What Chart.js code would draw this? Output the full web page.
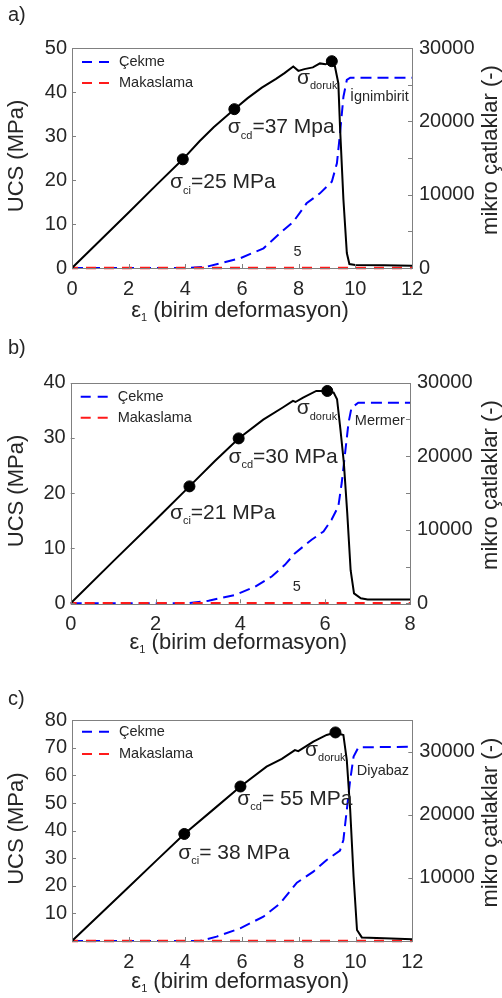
<!DOCTYPE html>
<html>
<head>
<meta charset="utf-8">
<script src="https://cdn.jsdelivr.net/npm/chart.js@4.4.1/dist/chart.umd.min.js"></script>
<style>
  html, body { margin: 0; padding: 0; background: #fff; }
  #wrap { position: relative; width: 502px; height: 998px; }
  canvas { position: absolute; left: 0; }
</style>
</head>
<body>
<div id="wrap">
  <canvas id="chartA" width="502" height="330" style="top:0px"></canvas>
  <canvas id="chartB" width="502" height="330" style="top:330px"></canvas>
  <canvas id="chartC" width="502" height="338" style="top:660px"></canvas>
</div>
<script>
// ---- panel a) Ignimbirit ----
const strainA = [0, 1, 2, 3, 3.91, 4.5, 5, 5.73, 6.2, 6.7, 7.2, 7.5, 7.81, 7.99, 8.2, 8.5, 8.75, 8.95, 9.17, 9.28, 9.4, 9.46, 9.58, 9.7, 9.79, 10, 11, 12];
const stressA = [0, 6.3, 12.6, 19.0, 24.7, 28.8, 32.0, 36.1, 38.6, 41.0, 43.0, 44.3, 45.8, 44.8, 45.2, 45.6, 46.5, 46.3, 47.0, 45.8, 42, 32, 15.5, 3.4, 0.9, 0.7, 0.6, 0.5];
const crackStrainA = [0, 4.0, 4.75, 5.93, 6.76, 7.35, 7.81, 8.28, 8.75, 9.17, 9.35, 9.46, 9.58, 9.7, 9.82, 12];
const crackA = [0, 0, 180, 1320, 2680, 4770, 6300, 8820, 10180, 11770, 14280, 18370, 23360, 25640, 25950, 25950];
const shearStrainA = [0, 12];
const shearA = [0, 0];
const markStrainA = [3.91, 5.73, 9.17];
const markStressA = [24.7, 36.1, 47.0];

// ---- panel b) Mermer ----
const strainB = [0, 1, 2, 2.8, 3.4, 3.96, 4.54, 5.0, 5.24, 5.3, 5.48, 5.79, 6.05, 6.2, 6.28, 6.36, 6.44, 6.52, 6.6, 6.68, 6.84, 7, 8];
const stressB = [0, 7.6, 15.1, 21.2, 25.8, 29.9, 33.3, 35.5, 36.7, 36.5, 37.3, 38.5, 38.5, 38.2, 37, 31.5, 25.5, 16.4, 6, 1.8, 0.9, 0.7, 0.7];
const crackStrainB = [0, 2.75, 3.25, 3.88, 4.35, 4.74, 5.05, 5.29, 5.68, 5.96, 6.15, 6.31, 6.39, 6.47, 6.55, 6.62, 6.78, 8];
const crackB = [0, 0, 360, 1140, 2270, 3640, 5230, 6820, 8640, 9770, 11360, 13180, 16360, 20450, 24540, 26590, 27270, 27270];
const shearStrainB = [0, 8];
const shearB = [0, 0];
const markStrainB = [2.8, 3.96, 6.05];
const markStressB = [21.2, 29.9, 38.5];

// ---- panel c) Diyabaz ----
const strainC = [0, 1, 2, 3, 3.96, 5, 5.94, 6.86, 7.4, 7.86, 7.98, 8.51, 8.98, 9.29, 9.57, 9.69, 9.81, 9.93, 10.05, 10.22, 11, 12];
const stressC = [0, 9.8, 19.6, 29.4, 38.8, 47.8, 56.0, 63.2, 66.0, 69.2, 68.8, 72.3, 74.7, 75.6, 74.7, 65.6, 47.5, 23.3, 4, 1.3, 1.0, 0.6];
const crackStrainC = [0, 4.5, 5.1, 5.93, 6.75, 7.34, 7.93, 8.51, 8.98, 9.45, 9.57, 9.69, 9.81, 9.93, 10.1, 12];
const crackC = [0, 0, 690, 2010, 3860, 5970, 9250, 11000, 12850, 14330, 16020, 20780, 25540, 29240, 30720, 30800];
const shearStrainC = [0, 12];
const shearC = [0, 0];
const markStrainC = [3.96, 5.94, 9.29];
const markStressC = [38.8, 56.0, 75.6];

const FONT = '"Liberation Sans", Arial, sans-serif';
const TXT = '#262626';
const AXIS = '#808080';

function pts(xs, ys) { return xs.map((x, i) => ({ x: x, y: ys[i] })); }

function rich(ctx, x, y, parts, align) {
  let w = 0;
  parts.forEach(p => { ctx.font = p.size + 'px ' + FONT; p.w = ctx.measureText(p.t).width; w += p.w; });
  let cx = align === 'center' ? x - w / 2 : x;
  parts.forEach(p => {
    ctx.font = p.size + 'px ' + FONT;
    ctx.fillText(p.t, cx, y + (p.dy || 0));
    cx += p.w;
  });
}

const decor = {
  id: 'decor',
  afterDraw(chart) {
    const o = chart.options.plugins.decor;
    const ctx = chart.ctx;
    const a = chart.chartArea;
    const sx = chart.scales.x, sy = chart.scales.y, s2 = chart.scales.y2;
    ctx.save();
    // frame
    ctx.strokeStyle = AXIS;
    ctx.lineWidth = 1;
    ctx.strokeRect(Math.round(a.left) + 0.5, Math.round(a.top) + 0.5, Math.round(a.right - a.left), Math.round(a.bottom - a.top));
    // inward ticks
    ctx.beginPath();
    sy.ticks.forEach(t => { const p = Math.round(sy.getPixelForValue(t.value)) + 0.5; ctx.moveTo(a.left, p); ctx.lineTo(a.left + 4, p); });
    s2.ticks.forEach(t => {
      if (!o.minorRight && t.value % 10000 !== 0) return;
      const p = Math.round(s2.getPixelForValue(t.value)) + 0.5; ctx.moveTo(a.right, p); ctx.lineTo(a.right - 4, p);
    });
    sx.ticks.forEach(t => { const p = Math.round(sx.getPixelForValue(t.value)) + 0.5; ctx.moveTo(p, a.bottom); ctx.lineTo(p, a.bottom - 4); });
    ctx.stroke();

    ctx.fillStyle = TXT;
    ctx.textBaseline = 'middle';
    ctx.textAlign = 'left';
    // panel letter
    ctx.font = '20px ' + FONT;
    ctx.fillText(o.letter, 8, o.letterY);

    // legend
    const lg = [['Çekme', '#0000ff', o.legendY[0]], ['Makaslama', '#ff1a1a', o.legendY[1]]];
    lg.forEach(l => {
      const yy = a.top + l[2];
      ctx.strokeStyle = l[1];
      ctx.lineWidth = 2;
      ctx.setLineDash([10, 7]);
      ctx.beginPath();
      ctx.moveTo(a.left + 10, yy);
      ctx.lineTo(a.left + 38, yy);
      ctx.stroke();
      ctx.setLineDash([]);
      ctx.fillStyle = TXT;
      ctx.font = '14.5px ' + FONT;
      ctx.fillText(l[0], a.left + 47, yy);
    });

    // sigma notes
    o.notes.forEach(n => {
      const px = sx.getPixelForValue(n.x), py = sy.getPixelForValue(n.y);
      rich(ctx, px, py, [
        { t: 'σ', size: 21 },
        { t: n.sub, size: 11, dy: 8 },
        { t: n.rest, size: 21 }
      ], 'left');
    });
    // material name & "5"
    ctx.font = '14.5px ' + FONT;
    ctx.fillText(o.rock.t, sx.getPixelForValue(o.rock.x), sy.getPixelForValue(o.rock.y));
    if (o.five) {
      ctx.textAlign = 'center';
      ctx.fillText('5', sx.getPixelForValue(o.five.x), sy.getPixelForValue(o.five.y));
      ctx.textAlign = 'left';
    }

    // axis titles
    const midX = (a.left + a.right) / 2, midY = (a.top + a.bottom) / 2;
    rich(ctx, midX - 2, a.bottom + o.xTitleDy, [
      { t: 'ε', size: 22 },
      { t: '1', size: 11, dy: 7 },
      { t: ' (birim deformasyon)', size: 22 }
    ], 'center');
    ctx.textAlign = 'center';
    ctx.font = '22px ' + FONT;
    ctx.save();
    ctx.translate(17, midY - 2);
    ctx.rotate(-Math.PI / 2);
    ctx.fillText('UCS (MPa)', 0, 0);
    ctx.restore();
    ctx.save();
    ctx.translate(491, midY - 8);
    ctx.rotate(-Math.PI / 2);
    ctx.fillText('mikro çatlaklar (-)', 0, 0);
    ctx.restore();
    ctx.restore();
  }
};

function makePanel(id, p) {
  const ctx = document.getElementById(id).getContext('2d');
  return new Chart(ctx, {
    type: 'line',
    data: {
      datasets: [
        { data: pts(p.markX, p.markY), yAxisID: 'y', showLine: false, pointRadius: 5.5,
          pointBackgroundColor: '#000', pointBorderColor: '#000', order: 0 },
        { data: pts(p.strain, p.stress), yAxisID: 'y', borderColor: '#000', borderWidth: 2,
          pointRadius: 0, tension: 0, order: 1 },
        { data: pts(p.shearX, p.shear), yAxisID: 'y2', borderColor: '#ff1a1a', borderWidth: 2.5,
          borderDash: [10, 8], borderDashOffset: 4, pointRadius: 0, clip: false, order: 2 },
        { data: pts(p.crackX, p.crack), yAxisID: 'y2', borderColor: '#0000ff', borderWidth: 2,
          borderDash: [11, 6], pointRadius: 0, tension: 0, clip: false, order: 3 }
      ]
    },
    options: {
      responsive: false,
      animation: false,
      layout: { padding: { top: p.area.top, left: 0, right: 0, bottom: 0 } },
      plugins: { legend: { display: false }, tooltip: { enabled: false }, decor: p.decor },
      scales: {
        x: {
          type: 'linear', min: 0, max: p.xMax,
          grid: { display: false, drawTicks: false }, border: { display: false },
          ticks: { stepSize: 2, padding: 9, color: TXT, font: { size: 20, family: FONT },
                   callback: v => (p.hideZero && v === 0) ? '' : v },
          afterFit: s => { s.height = p.canvasH - p.area.bottom; }
        },
        y: {
          position: 'left', min: 0, max: p.yMax,
          grid: { display: false, drawTicks: false }, border: { display: false },
          ticks: { stepSize: 10, padding: 5, color: TXT, font: { size: 20, family: FONT },
                   callback: v => (p.hideZero && v === 0) ? '' : v },
          afterFit: s => { s.width = p.area.left; }
        },
        y2: {
          position: 'right', min: 0, max: p.y2Max,
          grid: { display: false, drawTicks: false }, border: { display: false },
          ticks: { stepSize: 5000, autoSkip: false, padding: 7, color: TXT, font: { size: 20, family: FONT },
                   callback: v => (v % 10000 !== 0 || (p.hideZero && v === 0)) ? '' : String(v) },
          afterFit: s => { s.width = 502 - p.area.right; }
        }
      }
    },
    plugins: [decor]
  });
}

makePanel('chartA', {
  strain: strainA, stress: stressA, crackX: crackStrainA, crack: crackA, shearX: shearStrainA, shear: shearA,
  markX: markStrainA, markY: markStressA,
  xMax: 12, yMax: 50, y2Max: 30000, hideZero: false, canvasH: 330,
  area: { top: 48, bottom: 268, left: 72, right: 412 },
  decor: {
    letter: 'a)', letterY: 15, legendY: [14, 35], xTitleDy: 43, minorRight: true,
    notes: [
      { x: 3.46, y: 19.4, sub: 'ci', rest: '=25 MPa' },
      { x: 5.5, y: 31.9, sub: 'cd', rest: '=37 Mpa' },
      { x: 7.94, y: 43.2, sub: 'doruk', rest: '' }
    ],
    rock: { t: 'İgnimbirit', x: 9.81, y: 38.9 },
    five: { x: 7.96, y: 3.7 }
  }
});

makePanel('chartB', {
  strain: strainB, stress: stressB, crackX: crackStrainB, crack: crackB, shearX: shearStrainB, shear: shearB,
  markX: markStrainB, markY: markStressB,
  xMax: 8, yMax: 40, y2Max: 30000, hideZero: false, canvasH: 330,
  area: { top: 52.7, bottom: 273.3, left: 70.7, right: 410 },
  decor: {
    letter: 'b)', letterY: 18, legendY: [14, 35], xTitleDy: 40, minorRight: true,
    notes: [
      { x: 2.34, y: 16.4, sub: 'ci', rest: '=21 MPa' },
      { x: 3.72, y: 26.5, sub: 'cd', rest: '=30 MPa' },
      { x: 5.33, y: 35.3, sub: 'doruk', rest: '' }
    ],
    rock: { t: 'Mermer', x: 6.7, y: 33.1 },
    five: { x: 5.33, y: 2.9 }
  }
});

makePanel('chartC', {
  strain: strainC, stress: stressC, crackX: crackStrainC, crack: crackC, shearX: shearStrainC, shear: shearC,
  markX: markStrainC, markY: markStressC,
  xMax: 12, yMax: 80, y2Max: 35000, hideZero: true, canvasH: 338,
  area: { top: 60.3, bottom: 281, left: 72, right: 412.3 },
  decor: {
    letter: 'c)', letterY: 39, legendY: [11.4, 33.7], xTitleDy: 40.7, minorRight: false,
    notes: [
      { x: 3.75, y: 31.8, sub: 'ci', rest: '= 38 MPa' },
      { x: 5.83, y: 51.4, sub: 'cd', rest: '= 55 MPa' },
      { x: 8.22, y: 69.3, sub: 'doruk', rest: '' }
    ],
    rock: { t: 'Diyabaz', x: 10.04, y: 61.6 },
    five: null
  }
});
</script>
</body>
</html>
